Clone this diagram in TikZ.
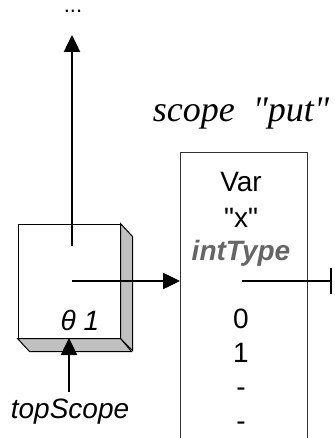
\documentclass[tikz,border=0pt]{standalone}
\usepackage{fontspec}
\setmainfont{Liberation Serif}
\setsansfont{Liberation Sans}
\usetikzlibrary{arrows.meta}
\definecolor{shade}{HTML}{C0C0C0}
\definecolor{frame}{HTML}{333333}
\definecolor{typegray}{HTML}{666666}
\tikzset{
  lbl/.style={font=\sffamily\fontsize{28}{28}\selectfont, inner sep=0pt, anchor=base},
  ilbl/.style={lbl, font=\sffamily\itshape\fontsize{28}{28}\selectfont},
  ptr/.style={line width=2.5pt, -{Triangle[length=17pt,width=16pt]}},
  facet/.style={fill=shade, draw=black, line width=1pt, line join=miter},
}
\begin{document}
\begin{tikzpicture}[x=1pt,y=-1pt]
\useasboundingbox (0,0) rectangle (334,438);

% scope cell drawn as a raised block
\node[draw=black, line width=1pt, fill=white, minimum width=102pt, minimum height=114pt, inner sep=0pt] (cell) at (69,281) {};
\draw[facet] (cell.north east) -- ++(12,13) -- ++(0,114) -- (cell.south east) -- cycle;
\draw[facet] (cell.south west) -- ++(12,13) -- ++(102,0) -- (cell.south east) -- cycle;

% variable frame, open at the bottom
\coordinate (fbl) at (180,438);
\coordinate (ftl) at (180,153);
\coordinate (ftr) at (307,153);
\coordinate (fbr) at (307,438);
\draw[frame, line width=1pt] (fbl) -- (ftl) -- (ftr) -- (fbr);

% pointer origins and ends
\coordinate (upfrom) at (72,246);
\coordinate (uptip) at (72,35);
\coordinate (rightfrom) at (72,281);
\coordinate (framein) at (180,281);
\coordinate (valfrom) at (242,281);
\coordinate (nullend) at (332,281);
\coordinate (topfrom) at (69,392);
\coordinate (celltop) at (69,338);

\node[lbl, font=\sffamily\fontsize{22}{22}\selectfont] (dots) at (73,13) {...};
\node[lbl, font=\rmfamily\itshape\fontsize{36}{36}\selectfont] (title) at (241,122) {scope~~\textquotedbl put\textquotedbl};

\draw[ptr] (upfrom) -- (uptip);
\draw[ptr] (rightfrom) -- (framein);
\draw[line width=2.5pt, -{Bar[width=26pt,line width=2.5pt]}] (valfrom) -- (nullend);
\draw[ptr] (topfrom) -- (celltop);

\node[ilbl] (theta) at (80,330) {θ 1};
\node[ilbl] (top) at (70,418) {topScope};

\node[lbl] (var) at (241,192) {Var};
\node[lbl] (name) at (241,227) {\textquotedbl x\textquotedbl};
\node[lbl, font=\sffamily\bfseries\itshape\fontsize{28}{28}\selectfont, text=typegray] (type) at (241,260) {intType};
\node[lbl] (v0) at (241,328) {0};
\node[lbl] (v1) at (241,362) {1};
\node[lbl] (v2) at (241,396) {-};
\node[lbl] (v3) at (241,430) {-};
\end{tikzpicture}
\end{document}
